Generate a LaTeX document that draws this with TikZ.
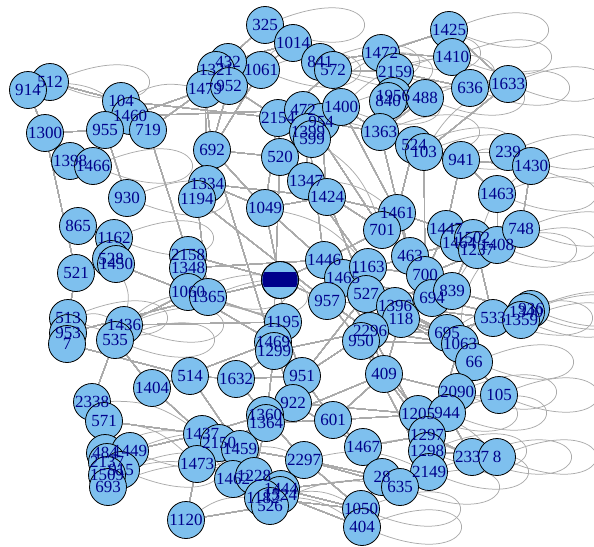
\documentclass[tikz,border=0pt]{standalone}
\usepackage{fontspec}
\setmainfont{Liberation Serif}
\definecolor{vfill}{RGB}{126,192,238}
\definecolor{vtext}{RGB}{0,0,139}
\definecolor{egray}{RGB}{170,170,170}
\newcommand\myloop[1]{\draw[edge] (#1) .. controls +(127,-48) and +(127,48) .. (#1);}
\begin{document}
\begin{tikzpicture}[x=1pt,y=-1pt,
  v/.style={circle,draw=black,line width=0.8pt,fill=vfill,minimum size=37pt,inner sep=0pt},
  lab/.style={inner sep=0pt,text=vtext,font=\fontsize{17}{18}\selectfont},
  edge/.style={draw=egray,line width=0.75pt}]
\useasboundingbox (0,0) rectangle (594,546);
% ---------- node coordinates ----------
\foreach \n/\x/\y in {325/265/25,1014/293/43,841/320/62,572/333/70,1061/261/70,432/228/62,1321/216/70,1479/205/89,952/229/86,
 2154/278/118,472/303/110,954/321/122,1399/308/132,599/312/139,1400/341/107,1472/381/53,2159/395/72,1956/393/96,840/388/101,
 1425/449/30,1410/452/57,636/470/88,1633/508/84,488/425/98,1363/380/132,524/414/145,103/424/152,941/461/160,239/508/152,
 1430/531/166,1463/497/194,512/50/82,914/28/90,104/121/101,1460/130/116,955/105/130,719/148/130,1300/45/133,1398/70/161,
 1466/93/166,692/212/150,520/280/157,1347/306/181,1424/327/197,1334/207/184,1194/197/199,930/127/198,1049/265/208,
 1461/397/213,701/382/230,1447/446/229,1464/459/243,1502/473/238,1237/477/250,1408/497/245,748/521/229,865/78/226,
 1162/114/238,528/111/259,1450/116/264,521/76/273,2158/188/255,1348/188/268,1060/188/292,1365/208/297,463/410/256,
 700/425/275,1446/324/260,1465/343/278,1163/368/267,957/327/301,527/366/294,694/432/298,839/452/291,1396/395/306,
 118/401/319,2296/370/331,950/361/341,513/68/318,953/68/333,7/67/344,1436/124/325,535/115/340,1195/283/322,1469/273/342,
 1299/274/351,533/493/318,936/531/309,1340/526/312,1359/521/320,695/447/333,1063/460/344,66/474/362,2090/457/392,105/499/395,
 409/384/374,514/190/376,1632/236/379,951/302/376,922/293/403,1404/152/388,2338/92/402,571/104/421,1205/418/414,944/447/413,
 601/333/420,1360/265/415,1364/266/423,1437/202/434,2150/219/443,1459/240/449,1473/197/464,1462/233/479,1228/254/476,
 2297/304/460,1467/363/447,1297/427/435,1298/427/451,2149/429/472,2337/472/457,8/497/457,28/382/477,635/400/487,
 1444/281/489,1524/280/495,1182/263/498,526/270/506,1050/361/509,404/362/527,1120/186/520,484/105/453,1449/130/451,
 2137/107/462,915/121/470,1509/107/475,693/108/487,c/280/280}
  \coordinate (p\n) at (\x,\y);
% ---------- nodes (invisible first, for clipping) ----------
\foreach \n in {325,1014,841,572,1061,432,1321,1479,952,2154,472,954,1399,599,1400,1472,2159,1956,840,1425,1410,636,1633,488,
 1363,524,103,941,239,1430,1463,512,914,104,1460,955,719,1300,1398,1466,692,520,1347,1424,1334,1194,930,1049,1461,701,1447,
 1464,1502,1237,1408,748,865,1162,528,1450,521,2158,1348,1060,1365,463,700,1446,1465,1163,957,527,694,839,1396,118,2296,950,
 513,953,7,1436,535,1195,1469,1299,533,936,1340,1359,695,1063,66,2090,105,409,514,1632,951,922,1404,2338,571,1205,944,601,
 1360,1364,1437,2150,1459,1473,1462,1228,2297,1467,1297,1298,2149,2337,8,28,635,1444,1524,1182,526,1050,404,1120,484,1449,
 2137,915,1509,693,c}
  \node[circle,minimum size=37pt,inner sep=0pt] (n\n) at (p\n) {};
% ---------- loops ----------
\foreach \n in {512,1466,930,1162,513,1436,535,325,1061,841,572,1472,2159,1425,1410,636,1633,488,524,103,239,1430,1463,748,
 1408,1237,533,936,1340,1359,66,105,8,2337,2149,635,1050,404,944,1205,1298,2090,1363,1400,1365,1060,1449,915,1473}
  \myloop{n\n}
% ---------- straight edges ----------
\foreach \a/\b in {914/1300,512/104,1300/955,1300/521,1460/472,719/1479,955/930,719/2158,
 1410/1472,1472/1425,636/2159,1633/103,488/1363,1400/1363,954/1424,2154/1049,520/1347,1399/1446,472/701,1014/1061,
 1061/692,1321/1479,952/1194,1479/1334,841/1400,572/2154,1472/1363,692/1049,1334/1424,1194/957,1049/1465,1347/1163,
 1424/527,1348/1446,1365/c,c/1446,c/957,c/1195,520/1469,692/1299,1424/1461,701/463,1461/1447,1163/700,1465/694,
 957/1396,527/839,2296/695,950/1063,118/66,1396/533,700/1408,463/1502,941/1463,865/1162,1162/528,521/513,535/2338,
 535/1404,1436/1195,1436/1060,953/1365,7/514,2338/571,571/1437,1449/1437,1404/1437,514/1632,514/1459,1632/951,
 1632/1360,1404/1469,1120/1473,1195/951,1469/922,1299/1364,951/601,951/2296,922/1205,922/1467,601/1467,1360/2297,
 1364/409,1459/2297,1228/1444,2297/1050,1444/28,1467/28,601/944,409/1297,409/2090,1063/1298,2090/2149,1297/2337,
 950/1205,957/2296,1465/118,2296/1297,1163/527,118/695,1347/701,1049/1424,
 2154/520,1399/1347,954/1363,1400/1461,1363/463,524/1461,103/700,941/1447,1430/748,
 1463/1408,1237/533,1502/839,839/1340,694/1359,695/533,1063/66,66/105,2090/1205,944/2337,8/1298,1298/2149,
 2149/635,28/1050,1050/404,1120/526,526/1524,2150/1459,
 1450/1060,1060/1469,1365/1195,1195/1469,1632/1299,1360/922,922/951,601/409,409/950,409/118,
 1299/2296,951/527,1446/2296,1465/957,527/1396,1396/695,118/1063,2296/1063,1297/944,1205/1297,1467/1297,
 2297/28,1228/1364,1459/1360,1364/601,2297/635,1444/1050,1524/404,1182/1050,2150/1364,1473/1444,
 692/520,1049/c,2158/c,1194/1365,1334/1049,104/2154,1460/1061,
 1321/325,432/1014,1479/692,952/2154,1014/841,841/1472,572/2159,2159/1956,840/1363,1956/488,1410/636,
 1425/1633,1363/524,524/941,103/239,941/1430,1461/463,701/1446,463/1465,1447/700,1464/1237,748/1408,
 1163/1396,1446/1163,700/839,694/695,1396/1063,950/2149,957/950,2296/409,1459/1462,1437/1360}
  \draw[edge] (n\a) -- (n\b);
% ---------- curved edges ----------
\foreach \a/\b in {512/1460,1450/1436,513/1436,535/1060,2338/1437,571/1473,484/1437,915/1462,693/1228,
 1120/1182,1182/404,526/635,1524/1050,2297/2149,1467/2337,1205/8,944/105,695/1340,1063/533,2090/66,
 1063/1408,839/748,1502/748,1237/1430,941/239,103/1633,488/636,1400/1410,1363/2159,954/1472,1399/1363,
 599/701,1049/1163,1347/1461,104/1479,1061/1014,2154/1400}
  \draw[edge] (n\a) to[bend left=18] (n\b);
% ---------- vertex circles ----------
\foreach \n in {325,1014,841,572,1061,432,1321,1479,952,2154,472,954,1399,599,1400,1472,2159,1956,840,1425,1410,636,1633,488,
 1363,524,103,941,239,1430,1463,512,914,104,1460,955,719,1300,1398,1466,692,520,1347,1424,1334,1194,930,1049,1461,701,1447,
 1464,1502,1237,1408,748,865,1162,528,1450,521,2158,1348,1060,1365,463,700,1446,1465,1163,957,527,694,839,1396,118,2296,950,
 513,953,7,1436,535,1195,1469,1299,533,936,1340,1359,695,1063,66,2090,105,409,514,1632,951,922,1404,2338,571,1205,944,601,
 1360,1364,1437,2150,1459,1473,1462,1228,2297,1467,1297,1298,2149,2337,8,28,635,1444,1524,1182,526,1050,404,1120,484,1449,
 2137,915,1509,693,c}
  \node[v] (v\n) at (p\n) {};
% ---------- labels (on top of all circles) ----------
\foreach \n in {325,1014,841,572,1061,432,1321,1479,952,2154,472,954,1399,599,1400,1472,2159,1956,840,1425,1410,636,1633,488,
 1363,524,103,941,239,1430,1463,512,914,104,1460,955,719,1300,1398,1466,692,520,1347,1424,1334,1194,930,1049,1461,701,1447,
 1464,1502,1237,1408,748,865,1162,528,1450,521,2158,1348,1060,1365,463,700,1446,1465,1163,957,527,694,839,1396,118,2296,950,
 513,953,7,1436,535,1195,1469,1299,533,936,1340,1359,695,1063,66,2090,105,409,514,1632,951,922,1404,2338,571,1205,944,601,
 1360,1364,1437,2150,1459,1473,1462,1228,2297,1467,1297,1298,2149,2337,8,28,635,1444,1524,1182,526,1050,404,1120,484,1449,
 2137,915,1509,693}
  \node[lab] (t\n) at (p\n) {\n};
% central vertex: its label band hides the text
\begin{scope}
  \clip (pc) circle (17.6);
  \fill[vtext] (262,272) rectangle (298,287);
\end{scope}
\draw[line width=0.8pt] (pc) circle (18.5);
\end{tikzpicture}
\end{document}
